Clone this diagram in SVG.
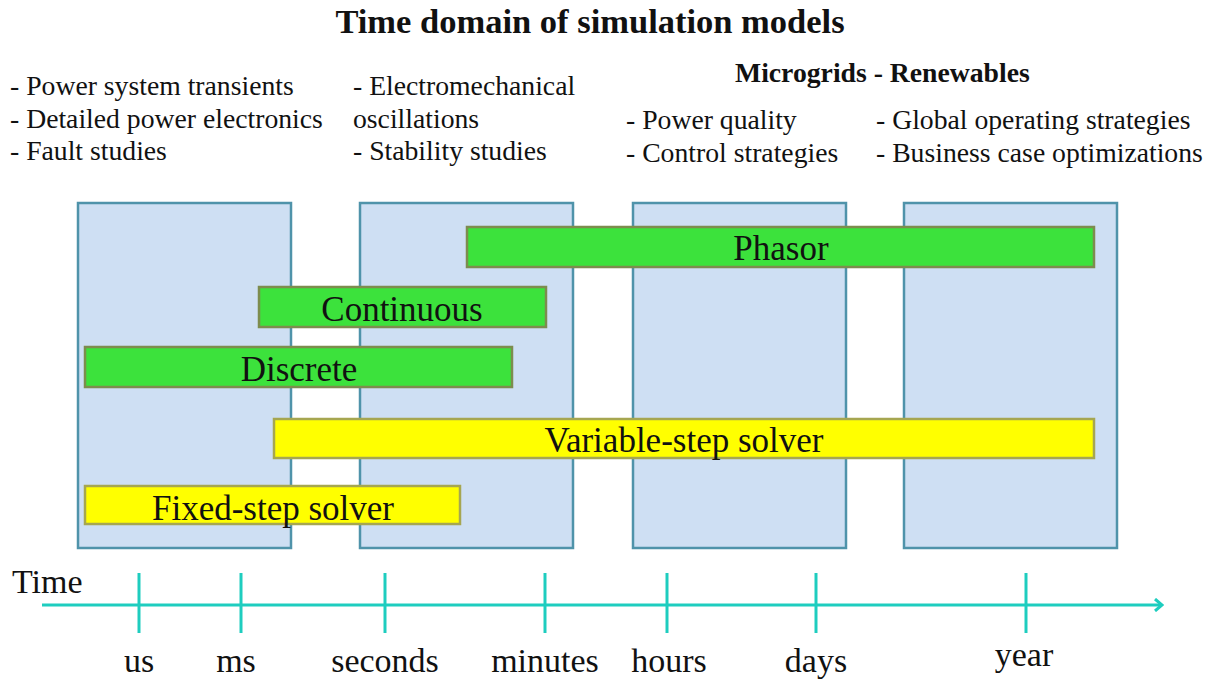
<svg xmlns="http://www.w3.org/2000/svg" width="1218" height="681" viewBox="0 0 1218 681">
<style>
text { font-family: "Liberation Serif", "Times New Roman", serif; fill: #111; }
.title { font-size: 34.5px; font-weight: bold; }
.sub { font-size: 27.7px; font-weight: bold; }
.hdr { font-size: 27.7px; }
.lbl { font-size: 35px; text-anchor: middle; }
.axl { font-size: 34px; text-anchor: middle; }
.band { fill: #cedff3; stroke: #4f93aa; stroke-width: 2.5; }
.green { fill: #3ce23c; stroke: #7d8c4e; stroke-width: 2.5; }
.yellow { fill: #ffff00; stroke: #a6a650; stroke-width: 2.5; }
.axis { stroke: #1ecdbf; stroke-width: 3; fill: none; }
</style>
<defs>
<marker id="arr" markerWidth="12" markerHeight="14" refX="10" refY="7" orient="auto" markerUnits="userSpaceOnUse">
<polyline points="3,1 10,7 3,13" fill="none" stroke="#1ecdbf" stroke-width="3"/>
</marker>
</defs>
<rect width="1218" height="681" fill="#ffffff"/>
<text class="title" x="590" y="33" text-anchor="middle">Time domain of simulation models</text>
<g id="headers">
<text class="hdr" x="10" y="95">- Power system transients</text>
<text class="hdr" x="10" y="128">- Detailed power electronics</text>
<text class="hdr" x="10" y="160">- Fault studies</text>
<text class="hdr" x="353" y="95">- Electromechanical</text>
<text class="hdr" x="353" y="128">oscillations</text>
<text class="hdr" x="353" y="160">- Stability studies</text>
<text class="sub" x="735" y="82">Microgrids - Renewables</text>
<text class="hdr" x="626" y="129">- Power quality</text>
<text class="hdr" x="626" y="162">- Control strategies</text>
<text class="hdr" x="876" y="129">- Global operating strategies</text>
<text class="hdr" x="876" y="162">- Business case optimizations</text>
</g>
<g id="band1"><rect class="band" x="78" y="203" width="213" height="345"/></g>
<g id="band2"><rect class="band" x="360" y="203" width="213" height="345"/></g>
<g id="band3"><rect class="band" x="633" y="203" width="213" height="345"/></g>
<g id="band4"><rect class="band" x="904" y="203" width="213" height="345"/></g>
<g id="phasor"><rect class="green" x="467" y="227" width="627" height="40"/><text class="lbl" x="781" y="260">Phasor</text></g>
<g id="continuous"><rect class="green" x="259" y="287" width="287" height="40"/><text class="lbl" x="402" y="321">Continuous</text></g>
<g id="discrete"><rect class="green" x="85" y="347" width="427" height="40"/><text class="lbl" x="299" y="381">Discrete</text></g>
<g id="variable"><rect class="yellow" x="274" y="419" width="820" height="39"/><text class="lbl" x="684" y="452">Variable-step solver</text></g>
<g id="fixed"><rect class="yellow" x="85" y="486" width="375" height="38"/><text class="lbl" x="273" y="520">Fixed-step solver</text></g>
<g id="connectors">
<line class="axis" x1="42" y1="605" x2="1162" y2="605" marker-end="url(#arr)"/>
<line class="axis" x1="139" y1="573" x2="139" y2="633"/>
<line class="axis" x1="241" y1="573" x2="241" y2="633"/>
<line class="axis" x1="385" y1="573" x2="385" y2="633"/>
<line class="axis" x1="545" y1="573" x2="545" y2="633"/>
<line class="axis" x1="667" y1="573" x2="667" y2="633"/>
<line class="axis" x1="816" y1="573" x2="816" y2="633"/>
<line class="axis" x1="1026" y1="573" x2="1026" y2="633"/>
</g>
<g id="axis-labels">
<text x="12" y="593" style="font-size:34px">Time</text>
<text class="axl" x="139" y="672">us</text>
<text class="axl" x="236" y="672">ms</text>
<text class="axl" x="385" y="672">seconds</text>
<text class="axl" x="545" y="672">minutes</text>
<text class="axl" x="669" y="672">hours</text>
<text class="axl" x="816" y="672">days</text>
<text class="axl" x="1024" y="666">year</text>
</g>
</svg>
